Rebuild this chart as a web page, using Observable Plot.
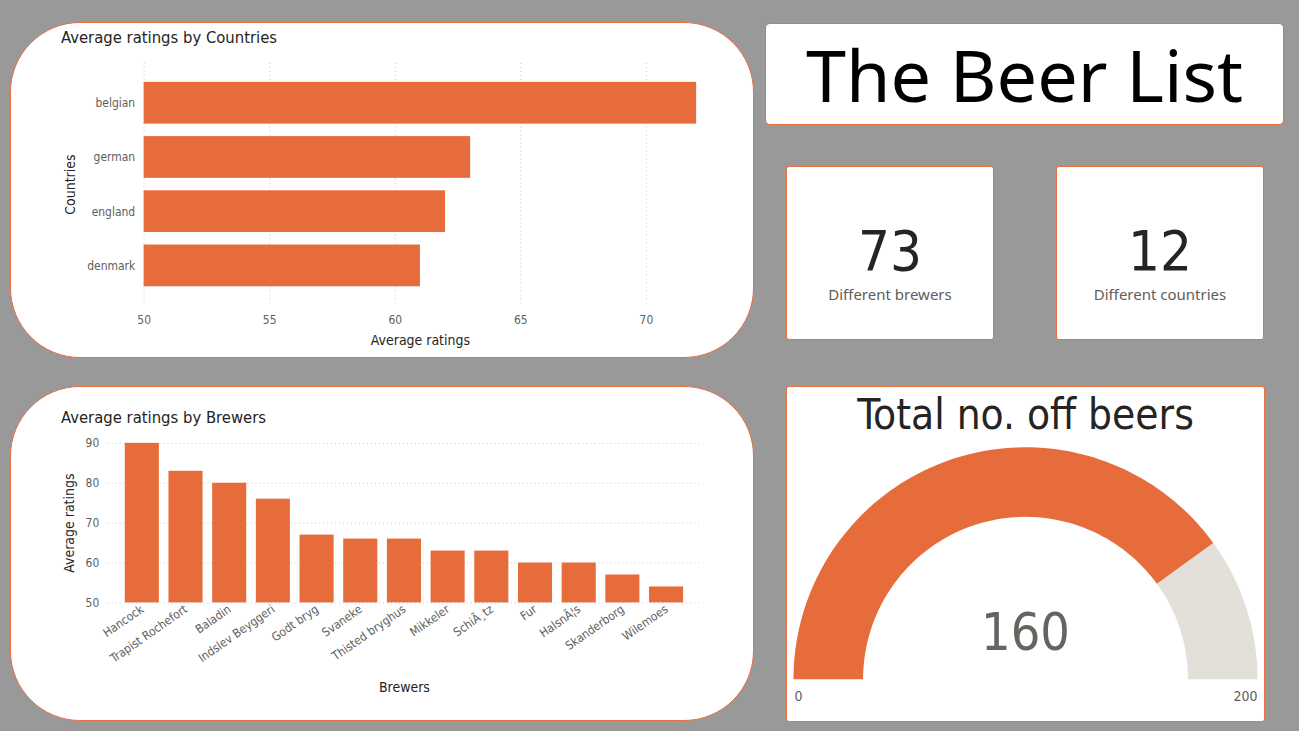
<!DOCTYPE html>
<html>
<head>
<meta charset="utf-8">
<script src="https://cdn.jsdelivr.net/npm/d3@7"></script>
<script src="https://cdn.jsdelivr.net/npm/@observablehq/plot@0.6"></script>
<style>
  html, body { margin: 0; padding: 0; }
  body { width: 1299px; height: 731px; background: #999999; position: relative; overflow: hidden;
         font-family: "DejaVu Sans Condensed", "Liberation Sans Narrow", Roboto, sans-serif; }
  .card { position: absolute; background: #ffffff; border: 1px solid #E8703F; box-sizing: border-box; overflow: hidden; }
  .ctitle { position: absolute; font-size: 16.5px; color: #252423; white-space: nowrap; }
  .plotwrap { position: absolute; left: 0; top: 0; }
  .big { position: absolute; left: 0; width: 100%; text-align: center; color: #252423; }
  .sub { position: absolute; left: 0; width: 100%; text-align: center; color: #605E5C; font-family: "Noto Sans", "Open Sans", sans-serif; font-size: 15px; }
</style>
</head>
<body>
<div id="c1" class="card" style="left:10px;top:22px;width:744px;height:336px;border-radius:70px;">
  <div class="ctitle" style="left:50px;top:5px;">Average ratings by Countries</div>
  <div id="p1" class="plotwrap"></div>
</div>
<div id="c2" class="card" style="left:10px;top:386px;width:744px;height:335px;border-radius:70px;">
  <div class="ctitle" style="left:50px;top:21px;">Average ratings by Brewers</div>
  <div id="p2" class="plotwrap"></div>
</div>
<div class="card" style="left:765px;top:23px;width:519px;height:102px;border-radius:5px;">
  <div class="big" style="top:0px;font-family:'Noto Sans','Open Sans',sans-serif;font-size:72px;color:#000;line-height:100px;">The Beer List</div>
</div>
<div class="card" style="left:786px;top:166px;width:208px;height:174px;border-radius:3px;">
  <div id="n1" class="big" style="top:52px;font-size:56px;line-height:64px;"></div>
  <div class="sub" style="top:117px;">Different brewers</div>
</div>
<div class="card" style="left:1056px;top:166px;width:208px;height:174px;border-radius:3px;">
  <div id="n2" class="big" style="top:52px;font-size:56px;line-height:64px;"></div>
  <div class="sub" style="top:117px;">Different countries</div>
</div>
<div class="card" style="left:786px;top:386px;width:479px;height:336px;border-radius:3px;">
  <div class="big" style="top:4px;font-size:42px;line-height:48px;">Total no. off beers</div>
  <div id="p3" class="plotwrap"></div>
</div>

<script>
// ---------- data ----------
const countries = ["belgian", "german", "england", "denmark"];
const countryRatings = [72, 63, 62, 61];
const countryTicks = [50, 55, 60, 65, 70];

const brewers = ["Hancock", "Trapist Rochefort", "Baladin", "Indslev Beyggeri", "Godt bryg", "Svaneke",
                 "Thisted bryghus", "Mikkeler", "SchiÃ¸tz", "Fur", "HalsnÃ¦s", "Skanderborg", "Wilemoes"];
const brewerRatings = [90, 83, 80, 76, 67, 66, 66, 63, 63, 60, 60, 57, 54];
const brewerTicks = [50, 60, 70, 80, 90];

const brewerCount = 73;
const countryCount = 12;
const gaugeValue = 160;
const gaugeMin = 0;
const gaugeMax = 200;

// ---------- styling ----------
const FONT = '"DejaVu Sans Condensed", "Liberation Sans Narrow", Roboto, sans-serif';
const ORANGE = "#E66C3C";
const GRID = "#C8C6C4";
const TICK = "#605E5C";
const DARK = "#252423";

document.getElementById("n1").textContent = brewerCount;
document.getElementById("n2").textContent = countryCount;

// ---------- chart 1: countries ----------
const countryData = countries.map((c, i) => ({country: c, rating: countryRatings[i]}));
const chart1 = Plot.plot({
  width: 744, height: 336,
  marginLeft: 133, marginRight: 57, marginTop: 40, marginBottom: 53,
  style: {fontFamily: FONT, fontSize: "12px", color: TICK, background: "transparent", overflow: "visible"},
  x: {domain: [countryTicks[0], 72], ticks: countryTicks, tickSize: 0, tickPadding: 10, label: null},
  y: {domain: countries, paddingInner: 0.23, paddingOuter: 0.35, round: false, tickSize: 0, tickPadding: 9, label: null},
  marks: [
    Plot.gridX(countryTicks, {stroke: GRID, strokeOpacity: 1, strokeDasharray: "1,3"}),
    Plot.barX(countryData, {x1: () => countryTicks[0], x2: "rating", y: "country", fill: ORANGE}),
    Plot.text(["Average ratings"], {frameAnchor: "bottom", lineAnchor: "middle", textAnchor: "middle", dy: 35, fontSize: 14, fill: DARK}),
    Plot.text(["Countries"], {frameAnchor: "left", textAnchor: "middle", lineAnchor: "middle", rotate: -90, dx: -74, fontSize: 14, fill: DARK})
  ]
});
document.getElementById("p1").appendChild(chart1);

// ---------- chart 2: brewers ----------
const brewerData = brewers.map((b, i) => ({brewer: b, rating: brewerRatings[i]}));
const chart2 = Plot.plot({
  width: 744, height: 335,
  marginLeft: 97, marginRight: 53, marginTop: 56, marginBottom: 119,
  style: {fontFamily: FONT, fontSize: "12px", color: TICK, background: "transparent", overflow: "visible"},
  x: {domain: brewers, paddingInner: 0.22, paddingOuter: 0.39, round: false, tickSize: 0, tickPadding: 5, tickRotate: -35, label: null},
  y: {domain: [brewerTicks[0], brewerTicks[brewerTicks.length - 1]], ticks: brewerTicks, tickSize: 0, tickPadding: 9, label: null},
  marks: [
    Plot.gridY(brewerTicks, {stroke: GRID, strokeOpacity: 1, strokeDasharray: "1,3"}),
    Plot.barY(brewerData, {x: "brewer", y1: () => brewerTicks[0], y2: "rating", fill: ORANGE}),
    Plot.text(["Brewers"], {frameAnchor: "bottom", lineAnchor: "middle", textAnchor: "middle", dy: 85, fontSize: 14, fill: DARK}),
    Plot.text(["Average ratings"], {frameAnchor: "left", textAnchor: "middle", lineAnchor: "middle", rotate: -90, dx: -39, fontSize: 14, fill: DARK})
  ]
});
document.getElementById("p2").appendChild(chart2);

// ---------- gauge ----------
const innerRatio = 0.70;
function arcPolygon(f0, f1, part) {
  // f0,f1 are fractions of the gauge range (0..1), mapped onto a half circle
  const n = 90, pts = [];
  for (let i = 0; i <= n; i++) {
    const a = Math.PI * (1 - (f0 + (f1 - f0) * i / n));
    pts.push({x: Math.cos(a), y: Math.sin(a), part});
  }
  for (let i = n; i >= 0; i--) {
    const a = Math.PI * (1 - (f0 + (f1 - f0) * i / n));
    pts.push({x: innerRatio * Math.cos(a), y: innerRatio * Math.sin(a), part});
  }
  return pts;
}
const frac = (gaugeValue - gaugeMin) / (gaugeMax - gaugeMin);
const filledArc = arcPolygon(0, frac, "value");
const restArc = arcPolygon(frac, 1, "rest");

const chart3 = Plot.plot({
  width: 479, height: 336,
  marginLeft: 6, marginRight: 7, marginTop: 60, marginBottom: 43,
  style: {fontFamily: FONT, fontSize: "13px", color: TICK, background: "transparent", overflow: "visible"},
  x: {domain: [-1, 1], axis: null},
  y: {domain: [0, 1], axis: null},
  marks: [
    Plot.line(restArc, {x: "x", y: "y", fill: "#E3E0DA", stroke: "none"}),
    Plot.line(filledArc, {x: "x", y: "y", fill: ORANGE, stroke: "none"}),
    Plot.text([gaugeValue], {frameAnchor: "bottom", lineAnchor: "middle", textAnchor: "middle", dy: -46, fontSize: 52, fontWeight: 300, fill: "#66645F"}),
    Plot.text([gaugeMin], {frameAnchor: "bottom-left", lineAnchor: "middle", textAnchor: "start", dx: 1, dy: 17, fontSize: 14, fill: TICK}),
    Plot.text([gaugeMax], {frameAnchor: "bottom-right", lineAnchor: "middle", textAnchor: "end", dy: 17, fontSize: 14, fill: TICK})
  ]
});
document.getElementById("p3").appendChild(chart3);
</script>
</body>
</html>
